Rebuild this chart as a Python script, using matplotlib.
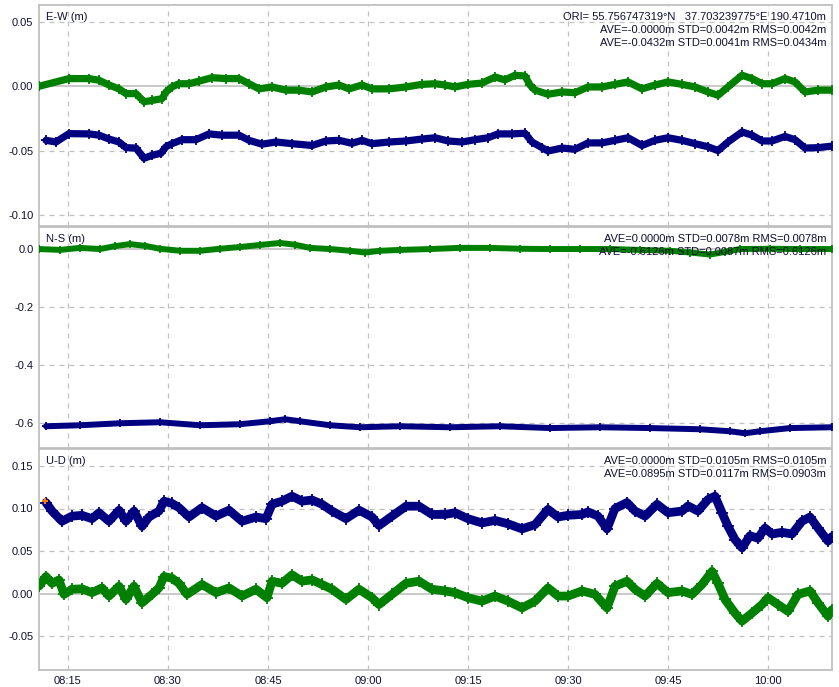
import matplotlib
matplotlib.use("Agg")
import matplotlib.pyplot as plt

# ---------------- data (time in minutes after 08:00, value in metres) ----------------
EW_GREEN = [(10.65, 0.000), (15.15, 0.006), (18.15, 0.006), (19.65, 0.0047), (21.15, 0.001), (22.65, -0.002),
            (23.7, -0.0057), (25.2, -0.0057), (26.4, -0.012), (27.6, -0.011), (29.1, -0.0096), (29.7, -0.0044),
            (30.6, -0.0005), (31.65, 0.002), (33.15, 0.002), (34.65, 0.004), (36.6, 0.0067), (38.7, 0.006),
            (40.65, 0.006), (42.15, 0.002), (43.65, -0.002), (45.6, -0.0005), (47.7, -0.003), (49.65, -0.003),
            (51.6, -0.0044), (53.7, -0.0005), (55.65, 0.001), (57.15, -0.002), (59.1, 0.001), (60.6, -0.002),
            (63.15, -0.002), (65.7, -0.0005), (68.1, 0.0015), (70.05, 0.002), (71.55, 0.001), (73.05, -0.0005),
            (75.0, 0.0015), (77.1, 0.0025), (79.05, 0.0072), (80.55, 0.005), (82.05, 0.0086), (83.55, 0.008),
            (84.3, 0.001), (85.05, -0.003), (87.0, -0.0062), (89.1, -0.0044), (91.05, -0.005), (93.0, -0.0005),
            (95.1, -0.0005), (97.05, 0.0015), (99.0, 0.0034), (101.1, -0.002), (103.05, 0.001), (105.0, 0.0034),
            (107.1, 0.0015), (109.05, -0.0005), (111.0, -0.0044), (112.5, -0.007), (114.0, -0.0005),
            (116.1, 0.0086), (117.6, 0.006), (119.1, 0.002), (120.6, 0.002), (122.55, 0.006), (124.05, 0.0034),
            (125.55, -0.0044), (127.5, -0.003), (129.6, -0.003)]
EW_BLUE = [(11.7, -0.042), (13.2, -0.0433), (15.15, -0.0368), (18.15, -0.037), (19.65, -0.038), (21.15, -0.041),
           (22.65, -0.0433), (23.7, -0.0477), (25.2, -0.048), (26.4, -0.056), (27.6, -0.0537), (28.95, -0.052),
           (29.7, -0.047), (30.6, -0.0446), (32.1, -0.0415), (34.2, -0.0415), (36.15, -0.037), (38.1, -0.038),
           (40.65, -0.038), (42.15, -0.042), (44.1, -0.045), (46.2, -0.0433), (48.6, -0.0446), (51.6, -0.046),
           (53.7, -0.0425), (55.65, -0.042), (57.6, -0.0443), (59.1, -0.042), (60.6, -0.0446), (63.15, -0.0433),
           (65.7, -0.0425), (68.1, -0.041), (70.05, -0.040), (72.0, -0.0425), (74.1, -0.0433), (76.05, -0.0415),
           (78.0, -0.040), (79.5, -0.037), (81.6, -0.037), (83.55, -0.0365), (84.6, -0.0433), (86.1, -0.0477),
           (87.0, -0.0503), (89.1, -0.048), (91.05, -0.049), (93.0, -0.044), (95.1, -0.044), (97.05, -0.042),
           (99.0, -0.040), (101.1, -0.046), (103.05, -0.042), (105.0, -0.040), (107.1, -0.042), (109.05, -0.0446),
           (111.0, -0.047), (112.5, -0.050), (114.0, -0.0433), (116.1, -0.0355), (117.6, -0.038), (119.1, -0.0425),
           (120.6, -0.0425), (122.55, -0.039), (124.05, -0.0415), (125.55, -0.048), (127.5, -0.0477),
           (129.6, -0.0465)]
NS_GREEN = [(10.65, 0.000), (13.8, -0.003), (16.8, 0.004), (19.8, 0.000), (22.05, 0.010), (24.3, 0.017),
            (26.55, 0.011), (28.8, 0.001), (31.8, -0.006), (34.8, -0.006), (37.8, 0.001), (40.8, 0.007),
            (43.8, 0.014), (46.8, 0.021), (49.05, 0.015), (51.3, 0.004), (54.3, 0.000), (57.3, -0.006),
            (59.55, -0.012), (61.8, -0.006), (64.8, -0.003), (69.3, 0.000), (73.8, 0.004), (78.3, 0.004),
            (82.8, 0.001), (87.3, 0.000), (91.8, 0.000), (96.3, 0.000), (100.8, -0.003), (105.3, -0.006),
            (108.3, -0.012), (111.3, -0.019), (113.55, -0.010), (115.8, 0.000), (120.3, 0.001), (124.8, 0.000),
            (129.6, 0.000)]
NS_BLUE = [(11.7, -0.611), (16.8, -0.6076), (22.8, -0.6007), (28.8, -0.5972), (34.8, -0.6076), (40.8, -0.604),
           (45.3, -0.5938), (47.55, -0.5869), (49.8, -0.5938), (54.3, -0.6076), (58.8, -0.6145), (64.8, -0.611),
           (72.3, -0.6145), (79.8, -0.611), (87.3, -0.6172), (94.8, -0.6145), (102.3, -0.6172), (109.8, -0.6214),
           (114.3, -0.6283), (116.55, -0.6352), (118.8, -0.6283), (123.3, -0.6172), (129.6, -0.6145)]
UD_GREEN = [(10.65, 0.0086), (11.7, 0.020), (12.6, 0.012), (13.65, 0.016), (14.4, -0.001), (15.6, 0.005),
            (17.1, 0.0055), (18.6, 0.001), (20.1, 0.0066), (21.15, -0.003), (22.65, 0.0086), (23.7, -0.007),
            (24.9, 0.0086), (26.1, -0.011), (27.6, -0.001), (28.65, 0.0066), (29.4, 0.020), (30.6, 0.018),
            (31.65, 0.012), (32.85, -0.001), (35.1, 0.0106), (37.2, 0.001), (39.15, 0.0066), (41.1, -0.003),
            (43.2, 0.005), (44.85, -0.005), (45.6, 0.0145), (47.1, 0.012), (48.6, 0.022), (50.1, 0.0145),
            (51.6, 0.016), (53.1, 0.0106), (54.6, 0.005), (56.7, -0.007), (58.65, 0.005), (60.6, -0.005),
            (61.65, -0.013), (63.6, -0.001), (65.7, 0.012), (67.65, 0.0145), (69.6, 0.005), (71.55, 0.003),
            (73.05, 0.001), (75.0, -0.005), (77.1, -0.009), (79.05, -0.003), (81.0, -0.009), (83.1, -0.017),
            (85.05, -0.009), (87.0, 0.0066), (88.5, -0.003), (90.0, -0.003), (92.1, 0.003), (94.05, -0.001),
            (95.85, -0.017), (97.05, 0.0086), (98.85, 0.0145), (100.05, 0.005), (101.55, -0.003), (103.35, 0.012),
            (105.0, 0.001), (107.1, 0.003), (108.6, -0.001), (110.1, 0.0106), (111.6, 0.026), (112.5, 0.012),
            (113.55, -0.007), (115.05, -0.023), (116.1, -0.0325), (117.6, -0.023), (119.1, -0.013), (120.0, -0.005),
            (121.5, -0.013), (123.0, -0.021), (124.5, -0.001), (126.3, 0.003), (127.5, -0.011), (129.0, -0.0267),
            (129.6, -0.019)]
UD_BLUE = [(11.7, 0.107), (12.6, 0.097), (14.1, 0.085), (15.6, 0.091), (17.1, 0.092), (18.6, 0.088),
           (19.65, 0.095), (21.15, 0.085), (22.65, 0.098), (23.7, 0.085), (24.9, 0.097), (26.1, 0.079),
           (27.15, 0.090), (28.65, 0.097), (29.4, 0.1086), (30.6, 0.106), (31.65, 0.101), (33.15, 0.090),
           (35.1, 0.101), (37.2, 0.091), (39.15, 0.098), (41.1, 0.085), (43.2, 0.090), (44.7, 0.088),
           (45.6, 0.105), (47.1, 0.1086), (48.6, 0.1145), (50.1, 0.1086), (51.6, 0.110), (53.1, 0.105),
           (54.6, 0.097), (56.7, 0.088), (58.65, 0.098), (60.6, 0.090), (61.65, 0.080), (63.6, 0.091),
           (65.7, 0.1027), (67.65, 0.1027), (69.6, 0.093), (71.55, 0.093), (73.05, 0.095), (75.0, 0.088),
           (77.1, 0.083), (79.05, 0.086), (81.0, 0.082), (83.1, 0.076), (85.05, 0.081), (87.0, 0.099),
           (88.5, 0.090), (90.0, 0.092), (92.1, 0.093), (93.0, 0.096), (94.5, 0.091), (95.85, 0.076),
           (97.05, 0.100), (98.85, 0.107), (100.05, 0.097), (101.55, 0.091), (103.35, 0.105), (105.0, 0.095),
           (107.1, 0.097), (108.0, 0.103), (109.5, 0.097), (111.0, 0.1106), (112.05, 0.1145), (113.1, 0.095),
           (114.0, 0.079), (115.05, 0.0635), (116.1, 0.0537), (117.3, 0.068), (118.5, 0.065), (119.55, 0.077),
           (120.6, 0.070), (122.1, 0.072), (123.6, 0.070), (125.1, 0.085), (126.3, 0.090), (127.5, 0.077),
           (129.0, 0.0616), (129.6, 0.067)]
UD_FLOAT = [(11.6, 0.109)]

X_TICKS = [15, 30, 45, 60, 75, 90, 105, 120]
X_LABELS = ["08:15", "08:30", "08:45", "09:00", "09:15", "09:30", "09:45", "10:00"]
X_RANGE = (10.65, 129.6)

PANELS = [
    dict(label="E-W (m)", green=EW_GREEN, blue=EW_BLUE, ylim=(-0.1086, 0.0632),
         yticks=[0.05, 0.00, -0.05, -0.10], ylabels=["0.05", "0.00", "-0.05", "-0.10"],
         stats=["ORI= 55.756747319\u00b0N   37.703239775\u00b0E 190.4710m",
                "AVE=-0.0000m STD=0.0042m RMS=0.0042m",
                "AVE=-0.0432m STD=0.0041m RMS=0.0434m"], floats=[], lw=5.2),
    dict(label="N-S (m)", green=NS_GREEN, blue=NS_BLUE, ylim=(-0.686, 0.076),
         yticks=[0.0, -0.2, -0.4, -0.6], ylabels=["0.0", "-0.2", "-0.4", "-0.6"],
         stats=["AVE=0.0000m STD=0.0078m RMS=0.0078m",
                "AVE=-0.6126m STD=0.0087m RMS=0.6126m"], floats=[], lw=4.3),
    dict(label="U-D (m)", green=UD_GREEN, blue=UD_BLUE, ylim=(-0.090, 0.170),
         yticks=[0.15, 0.10, 0.05, 0.00, -0.05], ylabels=["0.15", "0.10", "0.05", "0.00", "-0.05"],
         stats=["AVE=0.0000m STD=0.0105m RMS=0.0105m",
                "AVE=0.0895m STD=0.0117m RMS=0.0903m"], floats=UD_FLOAT, lw=6.3),
]

# ---------------- style ----------------
GREEN = "#008000"
NAVY = "#000080"
ORANGE = "#ff8000"
GRID = "#c0c0c0"
TXT = "#101030"
plt.rcParams["font.family"] = ["Liberation Sans", "DejaVu Sans"]

W, H = 839, 687
fig = plt.figure(figsize=(W / 100, H / 100), dpi=100)
fig.patch.set_facecolor("white")

left_px, right_px = 39, 832
tops = [5, 227, 449]
bots = [226, 448, 670]

for i, p in enumerate(PANELS):
    ax = fig.add_axes([left_px / W, 1 - bots[i] / H, (right_px - left_px) / W, (bots[i] - tops[i]) / H])
    ax.set_xlim(*X_RANGE)
    ax.set_ylim(*p["ylim"])
    for s in ax.spines.values():
        s.set_color(GRID)
        s.set_linewidth(1.3)
    ax.tick_params(length=0, labelsize=8, colors=TXT, pad=4)
    ax.set_yticks(p["yticks"])
    ax.set_yticklabels(p["ylabels"])
    ax.set_xticks(X_TICKS)
    if i == 2:
        ax.set_xticklabels(X_LABELS)
    else:
        ax.set_xticklabels([])
    for xt in X_TICKS:
        ax.axvline(xt, color=GRID, lw=0.9, ls=(0, (4, 4)), zorder=0)
    for yt in p["yticks"]:
        if abs(yt) < 1e-12:
            ax.axhline(yt, color=GRID, lw=1.2, ls="-", zorder=0)
        else:
            ax.axhline(yt, color=GRID, lw=0.9, ls=(0, (4, 4)), zorder=0)

    for series, col in ((p["blue"], NAVY), (p["green"], GREEN)):
        t = [a for a, _ in series]
        v = [b for _, b in series]
        ax.plot(t, v, color=col, lw=p["lw"], solid_joinstyle="round", solid_capstyle="round", zorder=3)
        ax.plot(t, v, ls="none", marker="+", ms=p["lw"] + 2, mew=1.3, color=col, zorder=3)
    if p["floats"]:
        ax.plot([a for a, _ in p["floats"]], [b for _, b in p["floats"]], ls="none",
                marker="+", ms=5, mew=1.5, color=ORANGE, zorder=4)

    ax.text(7 / (right_px - left_px), 1 - 12 / (bots[i] - tops[i]), p["label"], transform=ax.transAxes,
            fontsize=8, color=TXT, ha="left", va="center", zorder=5)
    for k, line in enumerate(p["stats"]):
        ax.text(1 - 6 / (right_px - left_px), 1 - (12 + 13 * k) / (bots[i] - tops[i]), line,
                transform=ax.transAxes, fontsize=8, color=TXT, ha="right", va="center", zorder=5)

fig.savefig("out.png", dpi=100, facecolor="white")
